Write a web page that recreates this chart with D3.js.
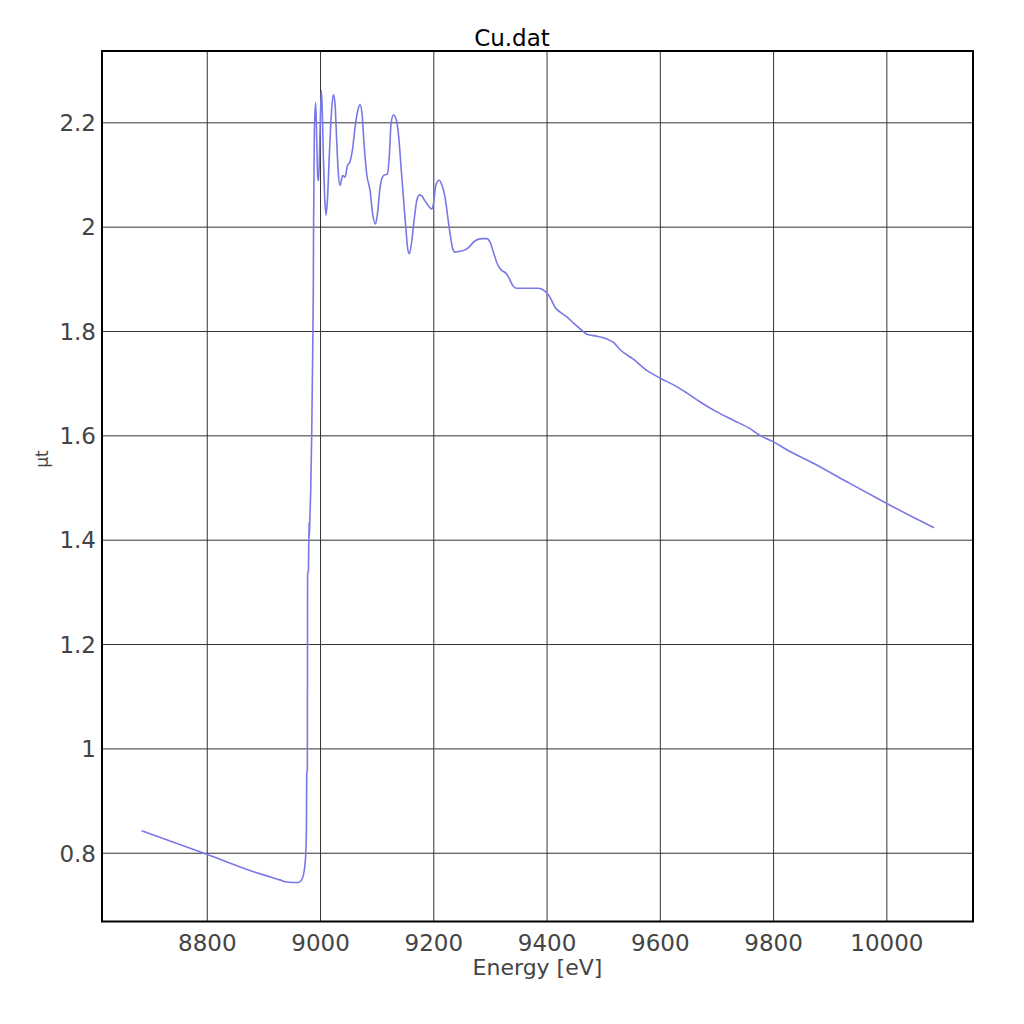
<!DOCTYPE html>
<html>
<head>
<meta charset="utf-8">
<script src="https://cdn.jsdelivr.net/npm/d3@7"></script>
<style>
  body { margin: 0; background: #fff; }
  svg text { font-family: "DejaVu Sans", sans-serif; }
</style>
</head>
<body>
<div id="chart"></div>
<script>
// spectrum
var energy = [
  8685, 8800, 8876, 8929, 8941, 8962, 8968, 8972, 8975, 8976, 8976.5, 8977.6,
  8978, 8979.5, 8980.6, 8981, 8982, 8983.6, 8985.3, 8987.1, 8988.2, 8988.5,
  8990, 8992.3, 8994.1, 8995.9, 8997.6, 9000, 9002.4, 9004.1, 9005.9, 9008.2,
  9010.6, 9013, 9016.5, 9020, 9023.6, 9026.5, 9029.4, 9032.4, 9035.3, 9040,
  9044.2, 9048.3, 9053, 9057.1, 9061.8, 9066.5, 9070.7, 9074.2, 9077.7, 9082.4,
  9088.3, 9093, 9097.8, 9101.3, 9106, 9111.9, 9119, 9122.5, 9125.4, 9129.6,
  9134.3, 9138.4, 9143.1, 9147.2, 9151.4, 9154.9, 9157.8, 9162, 9166.7, 9170.8,
  9175.5, 9179.6, 9185.5, 9191.4, 9197.3, 9200.2, 9204.4, 9210.2, 9215.5, 9220.8,
  9225.6, 9229.7, 9234.4, 9238.5, 9247.3, 9255, 9262, 9273.9, 9285.7, 9294.5,
  9300.4, 9306.2, 9313.3, 9319.3, 9328.6, 9334.5, 9340.4, 9346.3, 9365.1, 9385.7,
  9397.5, 9406.4, 9415.2, 9424, 9435.8, 9447.6, 9459.4, 9471.2, 9488.9, 9503.5,
  9518.2, 9530, 9554.4, 9577.8, 9600, 9630.4, 9648, 9671.3, 9700.6, 9729.8,
  9759.1, 9776.6, 9800, 9823.4, 9871.9, 9930.4, 10000, 10047.4, 10084.2
];
var mu = [
  0.842, 0.797, 0.766, 0.748, 0.744, 0.743, 0.749, 0.765, 0.803, 0.85, 0.949, 0.96,
  1.334, 1.34, 1.433, 1.405, 1.44, 1.497, 1.6, 1.765, 1.896, 1.985,
  2.184, 2.238, 2.171, 2.095, 2.088, 2.184, 2.261, 2.216, 2.133, 2.056,
  2.022, 2.05, 2.139, 2.216, 2.253, 2.235, 2.165, 2.101, 2.079, 2.098,
  2.095, 2.117, 2.125, 2.146, 2.19, 2.222, 2.234, 2.216, 2.159, 2.101,
  2.069, 2.024, 2.005, 2.024, 2.075, 2.098, 2.101, 2.139, 2.197, 2.214,
  2.206, 2.178, 2.114, 2.056, 1.999, 1.957, 1.948, 1.973, 2.018, 2.05,
  2.061, 2.059, 2.049, 2.04, 2.034, 2.043, 2.079, 2.089, 2.079, 2.056,
  2.018, 1.986, 1.957, 1.951, 1.953, 1.955, 1.96, 1.973, 1.977, 1.977,
  1.97, 1.951, 1.928, 1.918, 1.91, 1.9, 1.887, 1.882, 1.882, 1.882,
  1.876, 1.864, 1.845, 1.836, 1.827, 1.815, 1.804, 1.794, 1.79, 1.786,
  1.778, 1.764, 1.745, 1.724, 1.71, 1.693, 1.681, 1.664, 1.645, 1.629,
  1.613, 1.6, 1.588, 1.573, 1.546, 1.511, 1.47, 1.443, 1.423
];
var xTicks = [8800, 9000, 9200, 9400, 9600, 9800, 10000];
var yTicks = [0.8, 1, 1.2, 1.4, 1.6, 1.8, 2, 2.2];
var xDomain = [8615, 10153];
var yDomain = [0.6682, 2.3367];

var W = 1024, H = 1024;
var plotL = 102, plotR = 973, plotT = 51, plotB = 921.5;

var svg = d3.select("#chart").append("svg")
  .attr("width", W)
  .attr("height", H);

var x = d3.scaleLinear().domain(xDomain).range([plotL, plotR]);
var y = d3.scaleLinear().domain(yDomain).range([plotB, plotT]);

// grid + tick labels
svg.append("g")
  .attr("transform", "translate(0," + plotB + ")")
  .call(d3.axisBottom(x).tickValues(xTicks).tickSize(-(plotB - plotT)).tickFormat(d3.format("d")))
  .call(function(g){
    g.select(".domain").remove();
    g.selectAll(".tick line").attr("stroke", "#333").attr("stroke-width", 1);
    g.selectAll(".tick text")
      .attr("y", 8)
      .attr("dy", "0.95em")
      .attr("fill", "#444")
      .style("font-size", "23px");
  });

svg.append("g")
  .attr("transform", "translate(" + plotL + ",0)")
  .call(d3.axisLeft(y).tickValues(yTicks).tickSize(-(plotR - plotL)).tickFormat(function(d){ return String(d); }))
  .call(function(g){
    g.select(".domain").remove();
    g.selectAll(".tick line").attr("stroke", "#333").attr("stroke-width", 1);
    g.selectAll(".tick text")
      .attr("x", -6)
      .attr("dy", "0.36em")
      .attr("fill", "#444")
      .style("font-size", "23px");
  });

// spectrum
var line = d3.line()
  .x(function(d, i){ return x(energy[i]); })
  .y(function(d){ return y(d); })
  .curve(d3.curveMonotoneX);

svg.append("path")
  .datum(mu)
  .attr("d", line)
  .attr("fill", "none")
  .attr("stroke", "#7878e8")
  .attr("stroke-width", 1.6)
  .attr("stroke-linejoin", "round");

// frame
svg.append("rect")
  .attr("x", plotL)
  .attr("y", plotT)
  .attr("width", plotR - plotL)
  .attr("height", plotB - plotT)
  .attr("fill", "none")
  .attr("stroke", "#000")
  .attr("stroke-width", 2);

svg.append("text")
  .attr("x", 512)
  .attr("y", 46)
  .attr("text-anchor", "middle")
  .attr("fill", "#000")
  .style("font-size", "23px")
  .text("Cu.dat");

svg.append("text")
  .attr("x", (plotL + plotR) / 2)
  .attr("y", 975)
  .attr("text-anchor", "middle")
  .attr("fill", "#444")
  .style("font-size", "22px")
  .text("Energy [eV]");

svg.append("text")
  .attr("transform", "translate(48,459) rotate(-90)")
  .attr("text-anchor", "middle")
  .attr("fill", "#444")
  .style("font-size", "17px")
  .text("μt");
</script>
</body>
</html>
